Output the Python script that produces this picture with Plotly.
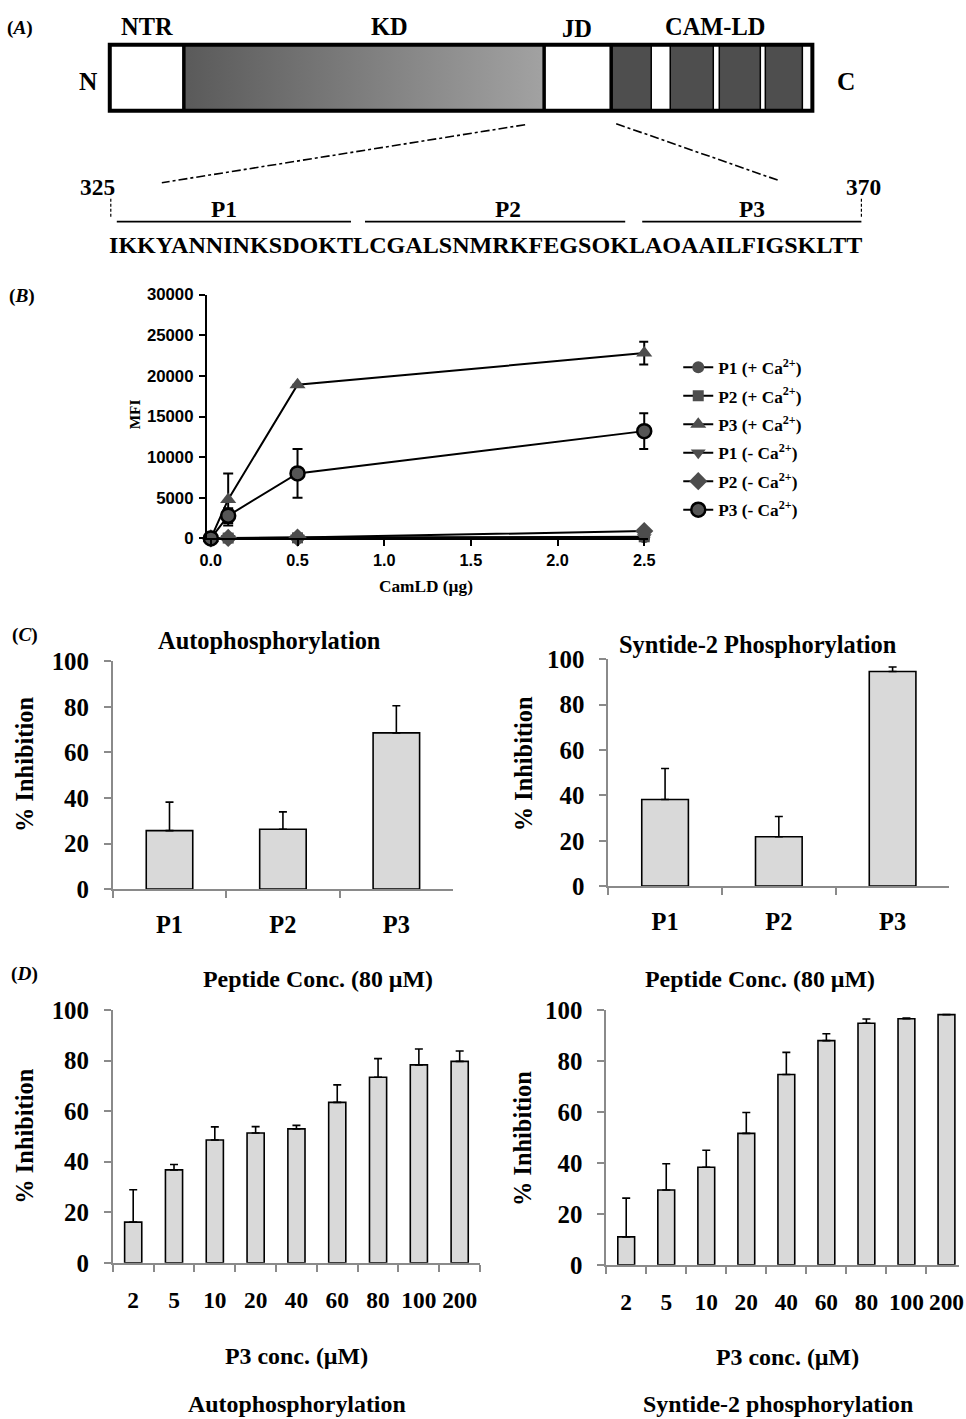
import plotly.graph_objects as go

W, H = 966, 1419
SERIF = "Liberation Serif"
SANS = "Liberation Sans"

# ---------------- data ----------------
# Panel A (schematic)
domain_labels = ["NTR", "KD", "JD", "CAM-LD"]
peptides = ["P1", "P2", "P3"]
jd_sequence = "IKKYANNINKSDOKTLCGALSNMRKFEGSOKLAOAAILFIGSKLTT"
residue_start, residue_end = "325", "370"

# Panel B
camld_ug = [0.0, 0.1, 0.5, 2.5]
mfi_p1_plus = [0, 50, 80, 150]
mfi_p2_plus = [0, 40, 70, 200]
mfi_p3_plus = [0, 4800, 18900, 22800]
mfi_p3_plus_err = [0, 3200, 0, 1400]
mfi_p1_minus = [0, 30, 60, 100]
mfi_p2_minus = [0, 60, 100, 900]
mfi_p3_minus = [0, 2800, 8000, 13200]
mfi_p3_minus_err = [0, 900, 3000, 2200]
series_names = ["P1 (+ Ca<sup>2+</sup>)", "P2 (+ Ca<sup>2+</sup>)", "P3 (+ Ca<sup>2+</sup>)",
                "P1 (- Ca<sup>2+</sup>)", "P2 (- Ca<sup>2+</sup>)", "P3 (- Ca<sup>2+</sup>)"]

# Panel C
auto_inhib_80 = [25.7, 26.3, 68.6]
auto_inhib_80_err = [12.5, 7.6, 11.9]
syn_inhib_80 = [38.2, 21.8, 94.6]
syn_inhib_80_err = [13.7, 8.9, 2.0]

# Panel D
p3_conc = ["2", "5", "10", "20", "40", "60", "80", "100", "200"]
auto_inhib_dose = [16.1, 36.8, 48.6, 51.4, 53.0, 63.5, 73.4, 78.3, 79.7]
auto_inhib_dose_err = [12.8, 2.1, 5.2, 2.5, 1.4, 6.9, 7.4, 6.3, 4.1]
syn_inhib_dose = [11.0, 29.4, 38.3, 51.6, 74.7, 88.0, 94.8, 96.6, 98.2]
syn_inhib_dose_err = [15.2, 10.3, 6.7, 8.2, 8.7, 2.7, 1.7, 0.3, 0.0]


# ---------------- layout helpers ----------------
# the photographed page shows the figure slightly inset/scaled; compensate
OX, OY, SX, SY = 7.3, 13.2, 0.9847, 0.9817
FS = 1 / 0.983


def fx(rx):
    return (rx - OX) / SX


def fy(ry):
    return (ry - OY) / SY


def dxp(a, b):
    return [max(fx(a) / W, 0.0), min(fx(b) / W, 1.0)]


def dyp(top, bottom):
    return [max(1 - fy(bottom) / H, 0.0), min(1 - fy(top) / H, 1.0)]


def ann(text, x, y, size, angle=0, family=SERIF, xanchor="center"):
    return dict(text=text, x=fx(x) / W, y=1 - fy(y) / H, xref="paper", yref="paper",
                showarrow=False, textangle=angle, xanchor=xanchor, yanchor="middle",
                font=dict(family=family, size=size * FS, color="black", weight="bold"))


fig = go.Figure()

# ---------------- Panel B ----------------
GRAY = "#4d4d4d"
styles = [
    dict(symbol="circle", size=12, color=GRAY, line=dict(width=0)),
    dict(symbol="square", size=11, color=GRAY, line=dict(width=0)),
    dict(symbol="triangle-up", size=14, color=GRAY, line=dict(width=0)),
    dict(symbol="triangle-down", size=13, color=GRAY, line=dict(width=0)),
    dict(symbol="diamond", size=14, color=GRAY, line=dict(width=0)),
    dict(symbol="circle", size=14, color="#555555", line=dict(width=2.5, color="black")),
]
ys = [mfi_p1_plus, mfi_p2_plus, mfi_p3_plus, mfi_p1_minus, mfi_p2_minus, mfi_p3_minus]
errs = [None, None, mfi_p3_plus_err, None, None, mfi_p3_minus_err]
for name, yv, st, er in zip(series_names, ys, styles, errs):
    tr = go.Scatter(x=camld_ug, y=yv, name=name, mode="lines+markers",
                    line=dict(color="black", width=2), marker=st,
                    cliponaxis=False, xaxis="x", yaxis="y", legendgroup=name)
    if er is not None:
        tr.error_y = dict(type="data", array=er, visible=True, color="black",
                          thickness=2, width=5)
    fig.add_trace(tr)


# ---------------- Bars ----------------
def bars(xcat, vals, err, ax, width):
    return go.Bar(x=xcat, y=vals, width=width, showlegend=False,
                  marker=dict(color="#d9d9d9", line=dict(color="black", width=1.6)),
                  error_y=dict(type="data", symmetric=False, array=err,
                               arrayminus=[0] * len(err), color="black",
                               thickness=1.6, width=4),
                  xaxis="x" + ax, yaxis="y" + ax)


fig.add_trace(bars(peptides, auto_inhib_80, auto_inhib_80_err, "2", 0.41))
fig.add_trace(bars(peptides, syn_inhib_80, syn_inhib_80_err, "3", 0.41))
fig.add_trace(bars(p3_conc, auto_inhib_dose, auto_inhib_dose_err, "4", 0.42))
fig.add_trace(bars(p3_conc, syn_inhib_dose, syn_inhib_dose_err, "5", 0.42))

# ---------------- Panel A schematic (axis in picture-pixel units) ----------------
fig.add_trace(go.Scatter(x=[184, 544, 544, 184, 184], y=[45, 45, 111, 111, 45],
                         mode="lines", fill="toself", line=dict(width=0),
                         fillgradient=dict(type="horizontal",
                                           colorscale=[[0, "#5a5a5a"], [1, "#a2a2a2"]]),
                         showlegend=False, hoverinfo="skip",
                         xaxis="x6", yaxis="y6"))

shapes = []


def rect(x0, x1, y0, y1, fill, lw=0, lc="black"):
    shapes.append(dict(type="rect", xref="x6", yref="y6", x0=x0, x1=x1, y0=y0, y1=y1,
                       fillcolor=fill, line=dict(width=lw, color=lc), layer="above"))


def seg(x0, y0, x1, y1, lw=1.5, dash="solid"):
    shapes.append(dict(type="line", xref="x6", yref="y6", x0=x0, y0=y0,
                       x1=x1, y1=y1, line=dict(color="black", width=lw, dash=dash),
                       layer="above"))


rect(110, 184, 45, 111, "white")
rect(544, 611, 45, 111, "white")
rect(611, 812, 45, 111, "white")
for a, b in [(611, 651), (670, 713), (719, 760), (765, 802)]:
    rect(a, b, 45, 111, "#4e4e4e", 1.5)
for xv in [184, 544, 611]:
    seg(xv, 45, xv, 111, lw=3.5)
rect(110, 812, 45, 111, "rgba(0,0,0,0)", 4)

seg(525, 125, 162, 183, lw=1.6, dash="dashdot")
seg(616, 124, 779, 181, lw=1.6, dash="dashdot")
seg(111, 199, 111, 218, lw=1.2, dash="3px,2px")
seg(861, 199, 861, 218, lw=1.2, dash="3px,2px")
for a, b in [(117, 351), (365, 625), (642, 861)]:
    seg(a, 222, b, 222, lw=1.6)

annotations = [
    ann("(<i>A</i>)", 20, 28, 19),
    ann(domain_labels[0], 147, 27, 24),
    ann(domain_labels[1], 389, 27, 24),
    ann(domain_labels[2], 577, 29, 24),
    ann(domain_labels[3], 715, 27, 24),
    ann("N", 89, 82, 25),
    ann("C", 846, 82, 25),
    ann(residue_start, 98, 187, 23),
    ann(residue_end, 863, 187, 23),
    ann(peptides[0], 224, 209, 23),
    ann(peptides[1], 508, 209, 23),
    ann(peptides[2], 752, 209, 23),
    ann(jd_sequence, 485, 245, 23.7),
    # panel B
    ann("(<i>B</i>)", 22, 296, 19),
    ann("MFI", 135, 415, 15, angle=-90),
    ann("CamLD (µg)", 426, 587, 17),
    # panel C
    ann("(<i>C</i>)", 25, 636, 19),
    ann("Autophosphorylation", 270, 641, 24),
    ann("Syntide-2 Phosphorylation", 758, 645, 24),
    ann("% Inhibition", 25, 765, 24, angle=-90),
    ann("% Inhibition", 523, 765, 24, angle=-90),
    ann("Peptide Conc. (80 µM)", 318, 980, 23.5),
    ann("Peptide Conc. (80 µM)", 760, 980, 23.5),
    # panel D
    ann("(<i>D</i>)", 25, 975, 19),
    ann("% Inhibition", 25, 1137, 24, angle=-90),
    ann("% Inhibition", 523, 1140, 24, angle=-90),
    ann("P3 conc. (µM)", 297, 1357, 23.5),
    ann("P3 conc. (µM)", 787, 1358, 23.5),
    ann("Autophosphorylation", 297, 1405, 23.5),
    ann("Syntide-2 phosphorylation", 778, 1405, 23.5),
]

# ---------------- axes ----------------
AXG = "#8a8a8a"


def bar_axes(n, xdom, ydom, xfont, xstand, xrange=None):
    xa = dict(domain=xdom, type="category", range=xrange or [-0.5, n - 0.5],
              showline=True, linecolor=AXG, linewidth=1.6, ticks="outside",
              tickson="boundaries", ticklen=7, tickcolor=AXG, tickwidth=1.6,
              showgrid=False, zeroline=False, tickangle=0,
              tickfont=dict(family=SERIF, size=xfont * FS, color="black", weight="bold"),
              ticklabelstandoff=xstand, fixedrange=True)
    ya = dict(domain=ydom, range=[0, 100], tickvals=[0, 20, 40, 60, 80, 100],
              showline=True, linecolor=AXG, linewidth=1.6, ticks="outside", ticklen=7,
              tickcolor=AXG, tickwidth=1.6, showgrid=False, zeroline=False,
              tickfont=dict(family=SERIF, size=24.5 * FS, color="black", weight="bold"),
              ticklabelstandoff=10, fixedrange=True)
    return xa, ya


x2, y2 = bar_axes(3, dxp(113, 453), dyp(662, 890), 24, 13)
x3, y3 = bar_axes(3, dxp(608, 949), dyp(660, 887), 24, 13)
x4, y4 = bar_axes(9, dxp(113, 480), dyp(1011, 1264), 23, 15)
# right dose panel runs off the right edge of the picture: keep 40 px per category
d5 = dxp(606, 966)
span_px = (d5[1] - d5[0]) * W * SX
x5, y5 = bar_axes(9, d5, dyp(1011, 1266), 23, 15,
                  xrange=[-0.5, -0.5 + span_px / 40.0])
for xa, ya, a in [(x2, y2, "2"), (x3, y3, "3"), (x4, y4, "4"), (x5, y5, "5")]:
    xa["anchor"] = "y" + a
    ya["anchor"] = "x" + a

fig.update_layout(
    width=W, height=H, margin=dict(l=0, r=0, t=0, b=0),
    paper_bgcolor="white", plot_bgcolor="rgba(0,0,0,0)",
    bargap=0.5,
    xaxis=dict(domain=dxp(207, 648), range=[-0.023, 2.523],
               tickvals=[0, 0.5, 1.0, 1.5, 2.0, 2.5], tickformat=".1f",
               showline=True, linecolor="black", linewidth=2, ticks="outside",
               ticklen=6, tickwidth=2, tickcolor="black", showgrid=False,
               zeroline=False, anchor="y",
               tickfont=dict(family=SANS, size=16 * FS, color="black", weight="bold")),
    yaxis=dict(domain=dyp(295, 539), range=[0, 30000],
               tickvals=[0, 5000, 10000, 15000, 20000, 25000, 30000], tickformat="d",
               showline=True, linecolor="black", linewidth=2, ticks="outside",
               ticklen=6, tickwidth=2, tickcolor="black", showgrid=False,
               zeroline=False, anchor="x", ticklabelstandoff=2,
               tickfont=dict(family=SANS, size=16.5 * FS, color="black", weight="bold")),
    xaxis2=x2, yaxis2=y2, xaxis3=x3, yaxis3=y3,
    xaxis4=x4, yaxis4=y4, xaxis5=x5, yaxis5=y5,
    xaxis6=dict(domain=[0, 1], range=[OX, OX + W * SX], visible=False, anchor="y6",
                fixedrange=True),
    yaxis6=dict(domain=[0, 1], range=[OY + H * SY, OY], visible=False, anchor="x6",
                fixedrange=True),
    legend=dict(x=fx(678) / W, y=1 - fy(350) / H, xanchor="left", yanchor="top",
                font=dict(family=SERIF, size=17 * FS, color="black", weight="bold"),
                tracegroupgap=3, bgcolor="rgba(0,0,0,0)", itemwidth=30),
    shapes=shapes, annotations=annotations,
)

fig.write_html(
    "out.html",
    config={"displayModeBar": False},
    post_script="document.body.style.margin='0';document.body.style.padding='0';"
                "document.body.style.overflow='hidden';"
                "document.documentElement.style.overflow='hidden';",
)
